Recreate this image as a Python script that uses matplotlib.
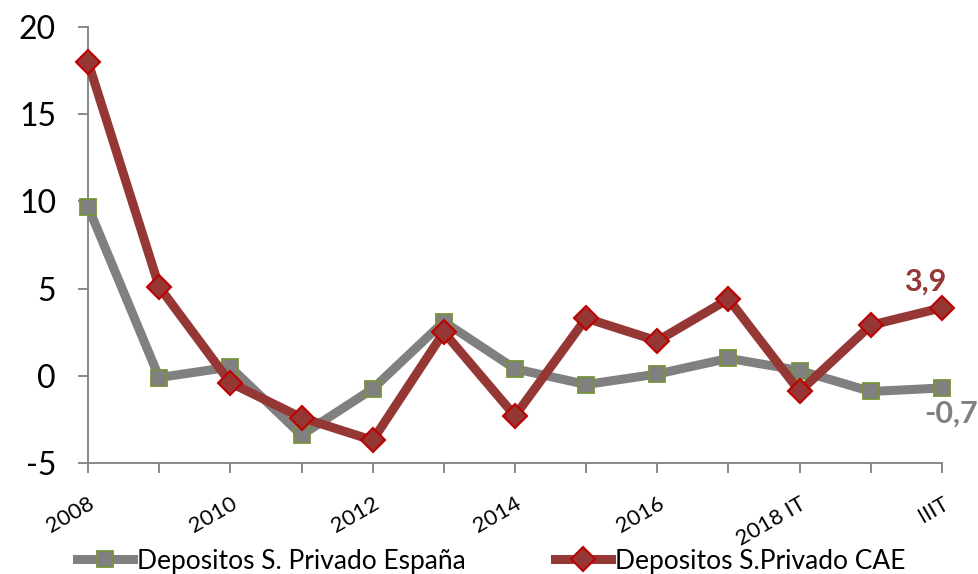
import numpy as np
import matplotlib.pyplot as plt

# categories and series
periods = ["2008", "2009", "2010", "2011", "2012", "2013", "2014", "2015",
           "2016", "2017", "2018 IT", "IIT", "IIIT"]
shown_labels = ["2008", "", "2010", "", "2012", "", "2014", "", "2016", "",
                "2018 IT", "", "IIIT"]
espana = [9.7, -0.1, 0.5, -3.4, -0.75, 3.1, 0.4, -0.5, 0.1, 1.0, 0.3, -0.9, -0.7]
cae = [18.0, 5.1, -0.4, -2.4, -3.7, 2.5, -2.3, 3.3, 2.0, 4.4, -0.9, 2.9, 3.9]

plt.rcParams['font.family'] = ['Lato', 'DejaVu Sans']
plt.rcParams['axes.unicode_minus'] = False

fig = plt.figure(figsize=(9.79, 5.74), dpi=100)
ax = fig.add_axes([0.0899, 0.1934, 0.8723, 0.7596])

x = np.arange(len(periods))
grey = "#808080"
red = "#953735"

ax.plot(x, espana, color=grey, lw=6.5, marker="s", markersize=12,
        markerfacecolor=grey, markeredgecolor="#77933C", markeredgewidth=1.3,
        label="Depositos S. Privado España", zorder=3, clip_on=False)
ax.plot(x, cae, color=red, lw=6.5, marker="D", markersize=12,
        markerfacecolor=red, markeredgecolor="#C00000", markeredgewidth=1.5,
        label="Depositos S.Privado CAE", zorder=4, clip_on=False)

ax.set_xlim(0, len(periods) - 1)
ax.set_ylim(-5, 20)
ax.set_yticks([-5, 0, 5, 10, 15, 20])
ax.set_xticks(x)
ax.set_xticklabels(shown_labels, rotation=30, ha="right", rotation_mode="anchor",
                   fontsize=16)
ax.tick_params(axis="y", labelsize=23, length=7, color=grey, width=1.3, pad=16)
ax.tick_params(axis="x", length=7, color=grey, width=1.3, pad=15)

for side in ["top", "right"]:
    ax.spines[side].set_visible(False)
for side in ["left", "bottom"]:
    ax.spines[side].set_color(grey)
    ax.spines[side].set_linewidth(1.3)

ax.annotate("3,9", (x[-1], cae[-1]), xytext=(-12, 9), textcoords="offset points",
            ha="center", va="bottom", fontsize=22, fontweight="bold", color=red,
            annotation_clip=False)
ax.annotate("-0,7", (x[-1], espana[-1]), xytext=(-13, -8), textcoords="offset points",
            ha="left", va="top", fontsize=22, fontweight="bold", color=grey,
            annotation_clip=False)

ax.legend(loc="center", bbox_to_anchor=(0.472, -0.225), ncol=2, frameon=False,
          fontsize=19, handlelength=2.1, columnspacing=3.4, handletextpad=0.15,
          borderpad=0.1)

fig.savefig("out.png", dpi=100)
